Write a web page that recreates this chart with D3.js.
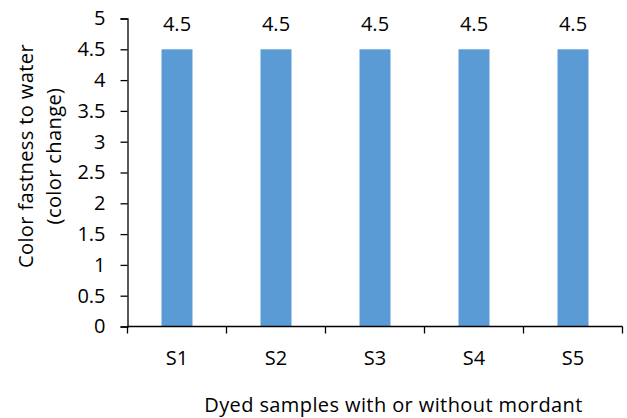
<!DOCTYPE html>
<html>
<head>
<meta charset="utf-8">
<script src="https://cdn.jsdelivr.net/npm/d3@7"></script>
<style>
  html, body { margin: 0; padding: 0; background: #fff; }
  svg { display: block; }
  text { font-family: "Open Sans", "Liberation Sans", sans-serif; fill: #000; }
</style>
</head>
<body>
<svg id="chart" width="627" height="418"></svg>
<script>
// Colour fastness ratings per dyed sample
const samples = ["S1", "S2", "S3", "S4", "S5"];
const ratings = [4.5, 4.5, 4.5, 4.5, 4.5];
const yTicks = [0, 0.5, 1, 1.5, 2, 2.5, 3, 3.5, 4, 4.5, 5];
const yTitleLines = ["Color fastness to water", "(color change)"];
const xTitle = "Dyed samples with or without mordant";

const svg = d3.select("#chart");
const plotLeft = 127.5, plotRight = 622.5, plotTop = 18.5, plotBottom = 326.5;
const fontSize = 20;

const x = d3.scaleBand()
  .domain(samples)
  .range([plotLeft, plotRight])
  .paddingInner(0.687)
  .paddingOuter(0.3435);

const y = d3.scaleLinear().domain([0, 5]).range([plotBottom, plotTop]);

// Bars
svg.append("g")
  .selectAll("rect")
  .data(samples)
  .join("rect")
  .attr("x", d => x(d))
  .attr("y", (d, i) => y(ratings[i]))
  .attr("width", x.bandwidth())
  .attr("height", (d, i) => y(0) - y(ratings[i]))
  .attr("fill", "#5B9BD5");

// Value labels
svg.append("g")
  .selectAll("text")
  .data(samples)
  .join("text")
  .attr("x", d => x(d) + x.bandwidth() / 2)
  .attr("y", (d, i) => y(ratings[i]) - 18.5)
  .attr("text-anchor", "middle")
  .attr("font-size", fontSize)
  .text((d, i) => d3.format(".1f")(ratings[i]));

// Y axis
const yAxis = d3.axisLeft(y)
  .tickValues(yTicks)
  .tickFormat(d => String(d))
  .tickSize(7)
  .tickPadding(15);
const gy = svg.append("g").attr("transform", `translate(${plotLeft},0)`).call(yAxis);
gy.select(".domain").attr("stroke", "#000").attr("stroke-width", 1.3);
gy.selectAll(".tick line").attr("stroke", "#000").attr("stroke-width", 1.3);
gy.selectAll(".tick text").attr("font-size", fontSize).attr("font-family", "Open Sans").attr("fill", "#000");

// X axis: ticks on band boundaries
const step = x.step();
const boundaries = d3.range(samples.length + 1).map(i => plotLeft + i * step);
const gx = svg.append("g");
gx.append("line")
  .attr("x1", plotLeft).attr("x2", plotRight)
  .attr("y1", plotBottom).attr("y2", plotBottom)
  .attr("stroke", "#000").attr("stroke-width", 1.3);
gx.selectAll("line.tick")
  .data(boundaries)
  .join("line")
  .attr("class", "tick")
  .attr("x1", d => d).attr("x2", d => d)
  .attr("y1", plotBottom).attr("y2", plotBottom + 7)
  .attr("stroke", "#000").attr("stroke-width", 1.3);
gx.selectAll("text")
  .data(samples)
  .join("text")
  .attr("x", d => x(d) + x.bandwidth() / 2)
  .attr("y", 365)
  .attr("text-anchor", "middle")
  .attr("font-size", fontSize)
  .text(d => d);

// Axis titles
svg.append("text")
  .attr("transform", "translate(0,156) rotate(-90)")
  .selectAll("tspan")
  .data(yTitleLines)
  .join("tspan")
  .attr("x", 0)
  .attr("y", (d, i) => 33 + i * 28)
  .attr("text-anchor", "middle")
  .attr("font-size", fontSize)
  .attr("letter-spacing", 0.4)
  .text(d => d);

svg.append("text")
  .attr("x", 393.5)
  .attr("y", 412)
  .attr("text-anchor", "middle")
  .attr("font-size", fontSize)
  .attr("letter-spacing", 0.4)
  .text(xTitle);
</script>
</body>
</html>
